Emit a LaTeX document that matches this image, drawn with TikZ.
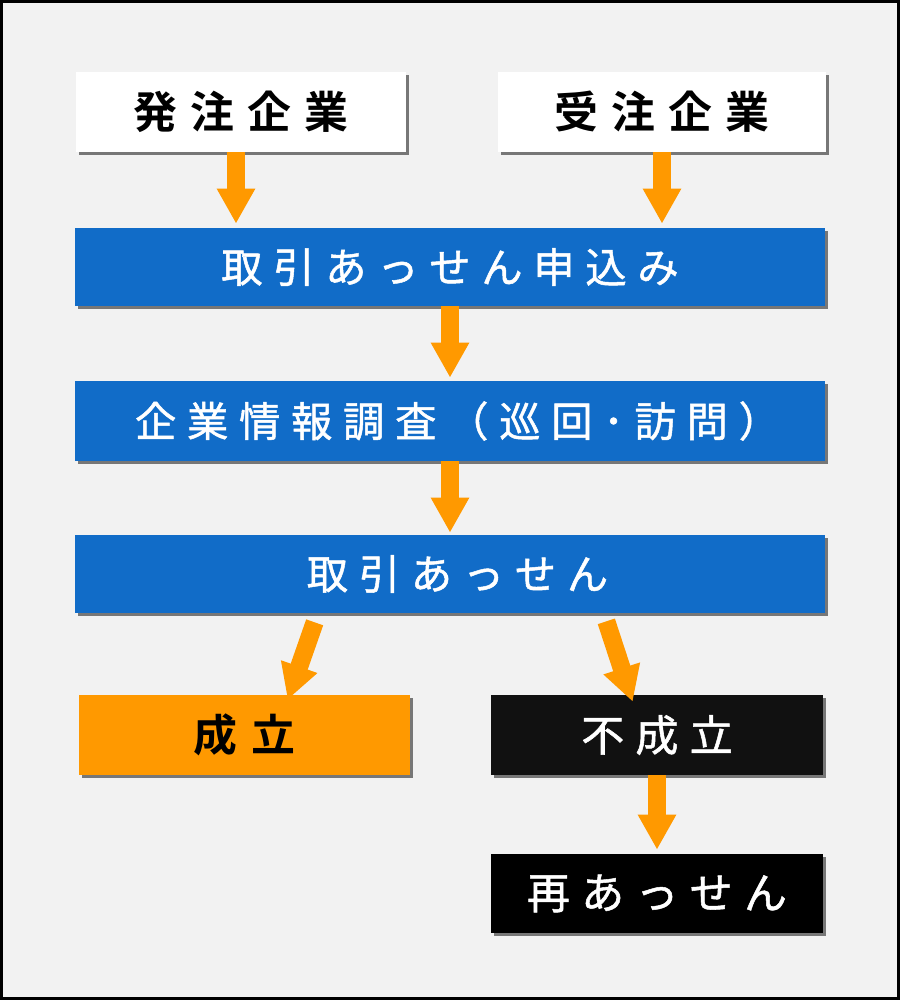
\documentclass[tikz,border=0pt]{standalone}
\usepackage{fontspec}
\setmainfont{Noto Sans CJK JP}
\newfontfamily\jpfont{Noto Sans CJK JP}[LetterSpace=26, FakeBold=1.2]
\newfontfamily\jpbfont{Noto Sans CJK JP Bold}[LetterSpace=30]
\usetikzlibrary{arrows.meta,shadows}

\definecolor{bggray}{HTML}{F2F2F2}
\definecolor{flowblue}{HTML}{116CC8}
\definecolor{floworange}{HTML}{FF9900}
\definecolor{nearblack}{HTML}{111111}

\tikzset{
    box/.style={inner sep=0pt, minimum height=1.6cm,
        drop shadow={shadow xshift=0.06cm, shadow yshift=-0.06cm,
            fill=black!85, opacity=.6}},
    firmbox/.style={box, fill=white, minimum width=6.6cm,
        font=\jpbfont\fontsize{25}{25}\selectfont},
    bluebox/.style={box, fill=flowblue, text=white, minimum width=15cm,
        minimum height=1.56cm, font=\jpfont\fontsize{23.5}{24}\selectfont},
    okbox/.style={box, fill=floworange, minimum width=6.62cm,
        font=\jpbfont\fontsize{25}{25}\selectfont},
    ngbox/.style={box, fill=nearblack, text=white, minimum width=6.64cm,
        font=\jpfont\fontsize{24.5}{25}\selectfont},
    fat/.style={draw=floworange, line width=0.36cm,
        -{Triangle[length=0.7cm, width=0.72cm]}}
}

\begin{document}
\begin{tikzpicture}[x=0.02cm, y=-0.02cm]
    % Frame
    \useasboundingbox (0,0) rectangle (900,1000);
    \draw[line width=0.06cm, fill=bggray] (1.5,1.5) rectangle (898.5,998.5);

    % Companies
    \node[firmbox] (hatchu) at (241,112) {発注企業};
    \node[firmbox, minimum width=6.56cm] (juchu) at (662,112) {受注企業};

    % Main flow
    \node[bluebox] (moushikomi) at (450,267) {取引あっせん申込み};
    \node[bluebox, minimum height=1.6cm] (chousa) at (450,421)
        {\hspace{0.3cm}企業情報調査（巡回･訪問）};
    \node[bluebox] (assen) at (450,574) {\hspace{0.3cm}取引あっせん};

    % Results
    \node[okbox] (seiritsu) at (244.5,735) {成立};
    \node[ngbox] (fuseiritsu) at (657,735) {不成立};
    \node[ngbox, fill=black, minimum height=1.58cm] (saiassen) at (657,893.5)
        {再あっせん};

    % Arrows
    \draw[fat] ([xshift=-0.1cm]hatchu.south)
        -- ([xshift=-0.1cm, yshift=0.08cm]hatchu.south |- moushikomi.north);
    \draw[fat] (juchu.south)
        -- ([yshift=0.08cm]juchu.south |- moushikomi.north);
    \draw[fat] (moushikomi.south) -- ([yshift=0.06cm]chousa.north);
    \draw[fat] (chousa.south) -- ([yshift=0.04cm]assen.north);
    \draw[fat] ([xshift=4.8cm, yshift=-0.18cm]assen.south west)
        -- ([xshift=4.18cm, yshift=-0.1cm]seiritsu.north west);
    \draw[fat] ([xshift=-4.38cm, yshift=-0.16cm]assen.south east)
        -- ([xshift=2.84cm, yshift=-0.14cm]fuseiritsu.north west);
    \draw[fat] (fuseiritsu.south) -- ([yshift=0.08cm]saiassen.north);
\end{tikzpicture}
\end{document}
